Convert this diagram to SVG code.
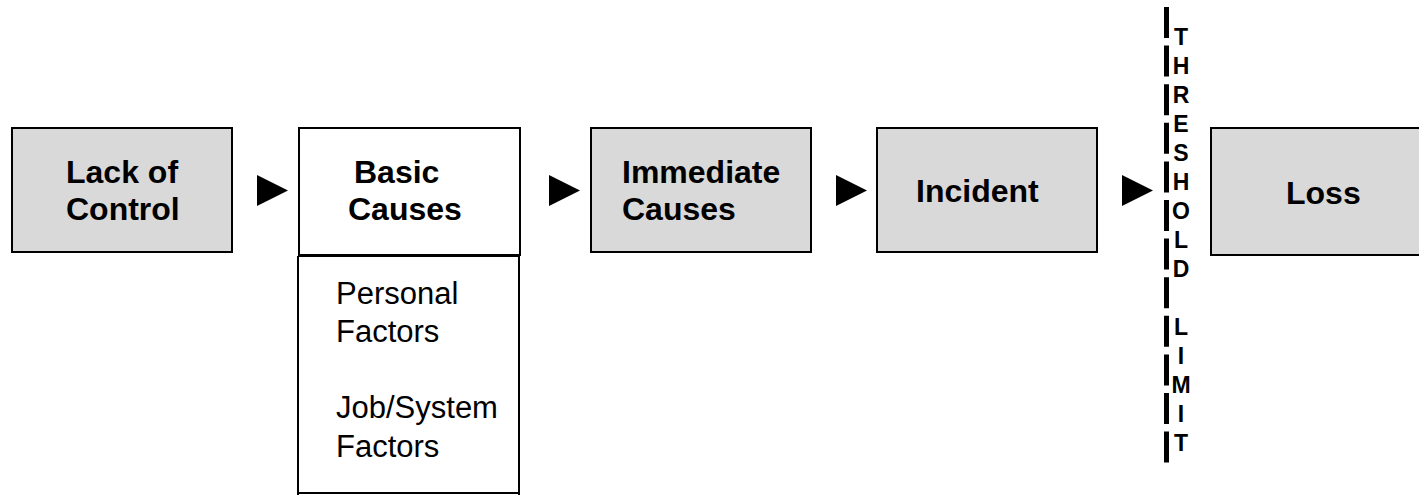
<svg xmlns="http://www.w3.org/2000/svg" width="1419" height="495" viewBox="0 0 1419 495">
  <style>
    .box { fill: #d9d9d9; stroke: #000; stroke-width: 2; }
    .wbox { fill: #fff; stroke: #000; stroke-width: 2; }
    .title { font-family: "Liberation Sans", Arial, sans-serif; font-weight: bold; font-size: 32px; fill: #000; }
    .sub { font-family: "Liberation Sans", Arial, sans-serif; font-size: 31px; fill: #000; }
    .limit { font-family: "Liberation Sans", Arial, sans-serif; font-weight: bold; font-size: 23px; fill: #000; text-anchor: middle; }
    .arrow { fill: #000; }
  </style>
  <defs>
    <polygon id="tri" points="0,0 31,15.5 0,31"/>
  </defs>

  <!-- Lack of Control -->
  <g id="lack-of-control">
    <rect class="box" x="12" y="128" width="220" height="124"/>
    <text class="title" x="66" y="183">Lack of</text>
    <text class="title" x="66" y="220">Control</text>
  </g>

  <!-- Basic Causes with its factor list -->
  <g id="basic-causes">
    <rect class="wbox" x="299" y="128" width="221" height="127"/>
    <text class="title" x="354" y="183">Basic</text>
    <text class="title" x="348" y="220">Causes</text>
  </g>
  <g id="basic-factors">
    <path d="M298,256 H519 M298,256 V495 M519,256 V495 M298,493 H519" fill="none" stroke="#000" stroke-width="2"/>
    <text class="sub" x="336" y="304">Personal</text>
    <text class="sub" x="336" y="342">Factors</text>
    <text class="sub" x="336" y="418">Job/System</text>
    <text class="sub" x="336" y="457">Factors</text>
  </g>

  <!-- Immediate Causes -->
  <g id="immediate-causes">
    <rect class="box" x="591" y="128" width="220" height="124"/>
    <text class="title" x="622" y="183">Immediate</text>
    <text class="title" x="622" y="220">Causes</text>
  </g>

  <!-- Incident -->
  <g id="incident">
    <rect class="box" x="877" y="128" width="220" height="124"/>
    <text class="title" x="916" y="202">Incident</text>
  </g>

  <!-- Loss -->
  <g id="loss">
    <rect class="box" x="1211" y="128" width="230" height="127"/>
    <text class="title" x="1286" y="204">Loss</text>
  </g>

  <!-- Threshold limit line -->
  <g id="threshold-limit">
    <line x1="1166.5" y1="7" x2="1166.5" y2="463" stroke="#000" stroke-width="5" stroke-dasharray="31 7.6"/>
    <text class="limit" x="1181" y="45">T</text>
    <text class="limit" x="1181" y="74">H</text>
    <text class="limit" x="1181" y="103">R</text>
    <text class="limit" x="1181" y="132">E</text>
    <text class="limit" x="1181" y="161">S</text>
    <text class="limit" x="1181" y="190">H</text>
    <text class="limit" x="1181" y="219">O</text>
    <text class="limit" x="1181" y="248">L</text>
    <text class="limit" x="1181" y="277">D</text>
    <text class="limit" x="1181" y="335">L</text>
    <text class="limit" x="1181" y="364">I</text>
    <text class="limit" x="1181" y="393">M</text>
    <text class="limit" x="1181" y="422">I</text>
    <text class="limit" x="1181" y="451">T</text>
  </g>

  <!-- Connectors -->
  <g id="connectors" class="arrow">
    <use href="#tri" x="257" y="175"/>
    <use href="#tri" x="549" y="175"/>
    <use href="#tri" x="836" y="175"/>
    <use href="#tri" x="1122" y="175"/>
  </g>
</svg>
